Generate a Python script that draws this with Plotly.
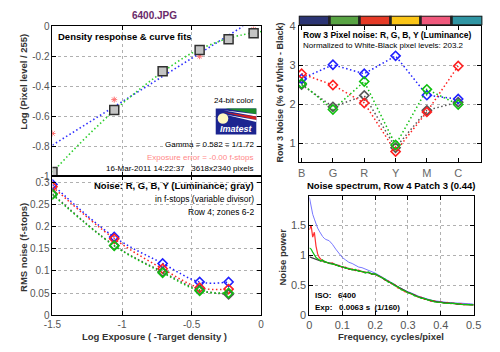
import plotly.graph_objects as go

W, H = 500, 352
def px(x): return x / W
def py(y): return 1 - y / H

# ---------------- Panel 1: density response ----------------
patch_logexp = [-1.5, -1.056, -0.708, -0.442, -0.234, -0.054]
patch_logpix = [-0.974, -0.56, -0.30, -0.159, -0.086, -0.047]
ref_logexp = [-1.5, -1.056, -0.442, -0.054]
ref_logpix = [-0.716, -0.49, -0.20, -0.021]
linfit_x = [-1.5, -0.13]
linfit_y = [-0.794, 0.0]
curvefit_x = [-1.5, -1.3, -1.1, -0.9, -0.7, -0.5, -0.3, -0.15, 0.0]
curvefit_y = [-0.975, -0.78, -0.60, -0.44, -0.30, -0.18, -0.10, -0.06, -0.035]

# ---------------- Panel 2: RMS noise in f-stops ----------------
zone_logexp = [-1.5, -1.056, -0.708, -0.442, -0.234]
noise_R = [0.291, 0.173, 0.105, 0.062, 0.059]
noise_G = [0.273, 0.157, 0.096, 0.055, 0.050]
noise_B = [0.296, 0.177, 0.117, 0.075, 0.075]
noise_Y = [0.275, 0.158, 0.098, 0.057, 0.047]

# ---------------- Panel 3: Row 3 pixel noise ----------------
patch_names = ["B", "G", "R", "Y", "M", "C"]
row3_R = [2.78, 2.49, 2.03, 0.78, 1.80, 2.98]
row3_G = [2.53, 1.86, 2.58, 0.95, 2.38, 1.99]
row3_B = [2.65, 3.01, 2.78, 3.24, 2.23, 2.13]
row3_Y = [2.50, 1.93, 2.22, 0.88, 1.84, 2.05]
patch_colors = ["#2b3474", "#58a443", "#e63a26", "#fbc516", "#f0587c", "#2f95a3"]
strip_height = [1, 1, 1, 1, 1, 1]

# ---------------- Panel 4: noise spectrum ----------------
freq = [0, 0.005, 0.01, 0.015, 0.02, 0.025, 0.03, 0.035, 0.04, 0.045, 0.05,
        0.06, 0.07, 0.08, 0.09, 0.10, 0.11, 0.12, 0.13, 0.14, 0.15,
        0.16, 0.17, 0.18, 0.19, 0.20, 0.21, 0.22, 0.23, 0.24, 0.25,
        0.26, 0.27, 0.28, 0.29, 0.30, 0.31, 0.32, 0.33, 0.34, 0.35,
        0.36, 0.37, 0.38, 0.39, 0.40, 0.41, 0.42, 0.43, 0.44, 0.45,
        0.46, 0.47, 0.48, 0.49, 0.50]
spec_B = [1.96, 1.80, 1.68, 1.60, 1.52, 1.45, 1.40, 1.35, 1.31, 1.28, 1.26,
          1.24, 1.18, 1.10, 1.02, 0.96, 0.92, 0.88, 0.86, 0.83, 0.80,
          0.79, 0.77, 0.75, 0.73, 0.70, 0.67, 0.64, 0.60, 0.57, 0.54,
          0.51, 0.47, 0.44, 0.41, 0.39, 0.37, 0.34, 0.32, 0.30, 0.28,
          0.27, 0.25, 0.24, 0.23, 0.22, 0.22, 0.21, 0.21, 0.20, 0.20,
          0.20, 0.19, 0.19, 0.19, 0.18]
spec_R = [1.42, 1.50, 1.30, 1.38, 1.15, 1.02, 0.96, 0.93, 0.90, 0.90, 0.88,
          0.86, 0.87, 0.83, 0.83, 0.79, 0.80, 0.76, 0.77, 0.74, 0.75,
          0.72, 0.71, 0.71, 0.68, 0.68, 0.65, 0.63, 0.58, 0.57, 0.52,
          0.51, 0.45, 0.44, 0.39, 0.38, 0.35, 0.34, 0.30, 0.30, 0.26,
          0.26, 0.23, 0.24, 0.21, 0.22, 0.20, 0.21, 0.19, 0.20, 0.18,
          0.19, 0.17, 0.18, 0.17, 0.17]
spec_Y = [0.97, 0.96, 0.95, 0.94, 0.93, 0.92, 0.91, 0.90, 0.91, 0.89, 0.88,
          0.87, 0.86, 0.84, 0.82, 0.80, 0.79, 0.77, 0.76, 0.75, 0.74,
          0.72, 0.72, 0.70, 0.69, 0.68, 0.66, 0.62, 0.59, 0.56, 0.53,
          0.50, 0.46, 0.43, 0.40, 0.38, 0.36, 0.33, 0.31, 0.29, 0.27,
          0.26, 0.24, 0.23, 0.22, 0.21, 0.21, 0.20, 0.20, 0.19, 0.19,
          0.18, 0.18, 0.18, 0.17, 0.17]
spec_G = [1.12, 1.10, 1.05, 1.00, 0.96, 0.94, 0.92, 0.90, 0.92, 0.88, 0.89,
          0.86, 0.85, 0.84, 0.81, 0.81, 0.78, 0.78, 0.75, 0.76, 0.73,
          0.73, 0.70, 0.72, 0.68, 0.69, 0.65, 0.62, 0.60, 0.55, 0.54,
          0.49, 0.47, 0.42, 0.41, 0.37, 0.36, 0.32, 0.31, 0.28, 0.28,
          0.25, 0.25, 0.22, 0.22, 0.21, 0.20, 0.20, 0.19, 0.19, 0.19,
          0.18, 0.18, 0.17, 0.18, 0.17]

FONT = "Liberation Sans"
TICKC = "#555555"
COL = {"R": "#ff2020", "G": "#10c010", "B": "#2020ff", "Y": "#555555"}
DOT = "1.5px,2.5px"

fig = go.Figure()

# Panel 1 traces
fig.add_trace(go.Scatter(x=linfit_x, y=linfit_y, mode="lines", xaxis="x", yaxis="y",
                         line=dict(color="#3030ff", width=1.6, dash=DOT)))
fig.add_trace(go.Scatter(x=curvefit_x, y=curvefit_y, mode="lines", xaxis="x", yaxis="y",
                         line=dict(color="#30d030", width=1.6, dash=DOT, shape="spline")))
fig.add_trace(go.Scatter(x=ref_logexp, y=ref_logpix, mode="markers", xaxis="x", yaxis="y",
                         marker=dict(symbol="asterisk-open", size=5, color="#ff7070",
                                     line=dict(color="#ff7070", width=1))))
fig.add_trace(go.Scatter(x=patch_logexp, y=patch_logpix, mode="markers", xaxis="x", yaxis="y",
                         marker=dict(symbol="square", size=9, color="#c4c4c4",
                                     line=dict(color="#303030", width=1.5))))

# Panel 2 traces
for vals, key in [(noise_B, "B"), (noise_R, "R"), (noise_Y, "Y"), (noise_G, "G")]:
    fig.add_trace(go.Scatter(x=zone_logexp, y=vals, mode="lines+markers", xaxis="x2", yaxis="y2",
                             line=dict(color=COL[key], width=1.5, dash=DOT, shape="spline"),
                             marker=dict(symbol="diamond-open", size=7,
                                         line=dict(color=COL[key], width=1.6))))

# Panel 3 traces
for vals, key in [(row3_Y, "Y"), (row3_B, "B"), (row3_R, "R"), (row3_G, "G")]:
    fig.add_trace(go.Scatter(x=patch_names, y=vals, mode="lines+markers", xaxis="x3", yaxis="y3",
                             line=dict(color=COL[key], width=1.5, dash=DOT),
                             marker=dict(symbol="diamond-open", size=7,
                                         line=dict(color=COL[key], width=1.6))))

# colour strip
fig.add_trace(go.Bar(x=patch_names, y=strip_height, xaxis="x5", yaxis="y5", width=1,
                     marker=dict(color=patch_colors, line=dict(color="#222222", width=2.5))))

# Panel 4 traces
fig.add_trace(go.Scatter(x=freq, y=spec_B, mode="lines", xaxis="x4", yaxis="y4",
                         line=dict(color="#7878ff", width=1)))
fig.add_trace(go.Scatter(x=freq, y=spec_R, mode="lines", xaxis="x4", yaxis="y4",
                         line=dict(color="#ff3030", width=1.2)))
fig.add_trace(go.Scatter(x=freq, y=spec_Y, mode="lines", xaxis="x4", yaxis="y4",
                         line=dict(color="#404040", width=1.2)))
fig.add_trace(go.Scatter(x=freq, y=spec_G, mode="lines", xaxis="x4", yaxis="y4",
                         line=dict(color="#10c010", width=1.2)))

axcommon = dict(showline=True, linecolor="black", linewidth=1, mirror="ticks",
                ticks="inside", ticklen=4, tickcolor="black", zeroline=False,
                showgrid=True, gridcolor="#b0b0b0", griddash="dot", gridwidth=1,
                tickfont=dict(family=FONT, size=10, color=TICKC))

def ax(**kw):
    d = dict(axcommon)
    d.update(kw)
    return d

fig.update_layout(
    width=W, height=H, margin=dict(l=0, r=0, t=0, b=0),
    paper_bgcolor="white", plot_bgcolor="white", showlegend=False, bargap=0,
    font=dict(family=FONT, size=10, color="black"),
    xaxis=ax(domain=[px(45), px(261)], range=[-1.5, 0], anchor="y",
             tickvals=[-1.5, -1, -0.5, 0], showticklabels=False),
    yaxis=ax(domain=[py(176), py(21)], range=[-1, 0], anchor="x",
             tickvals=[0, -0.2, -0.4, -0.6, -0.8, -1],
             ticktext=["0", "-0.2", "-0.4", "-0.6", "-0.8", "-1"]),
    xaxis2=ax(domain=[px(45), px(261)], range=[-1.5, 0], anchor="y2",
              tickvals=[-1.5, -1, -0.5, 0], ticktext=["-1.5", "-1", "-0.5", "0"]),
    yaxis2=ax(domain=[py(320), py(176)], range=[0, 0.3153], anchor="x2",
              tickvals=[0, 0.05, 0.1, 0.15, 0.2, 0.25, 0.3],
              ticktext=["0", "0.05", "0.1", "0.15", "0.2", "0.25", "0.3"]),
    xaxis3=ax(domain=[px(300), px(489)], range=[-0.09, 5.74], anchor="y3", type="category",
              showgrid=False, tickfont=dict(family=FONT, size=11, color="#666666")),
    yaxis3=ax(domain=[py(162), py(21)], range=[0.5, 4], anchor="x3",
              tickvals=[1, 2, 3, 4], tickfont=dict(family=FONT, size=11, color=TICKC)),
    xaxis4=ax(domain=[px(311), px(481)], range=[0, 0.5], anchor="y4",
              tickvals=[0, 0.1, 0.2, 0.3, 0.4, 0.5],
              ticktext=["0", "0.1", "0.2", "0.3", "0.4", "0.5"],
              tickfont=dict(family=FONT, size=11, color=TICKC)),
    yaxis4=ax(domain=[py(320), py(197)], range=[0, 1.98], anchor="x4",
              tickvals=[0, 0.5, 1, 1.5], ticktext=["0", "0.5", "1", "1.5"],
              tickfont=dict(family=FONT, size=11, color=TICKC)),
    xaxis5=dict(domain=[px(300), px(490)], range=[-0.5, 5.5], anchor="y5",
                type="category", visible=False),
    yaxis5=dict(domain=[py(20), py(10)], range=[0, 1], anchor="x5", visible=False),
)

ann = []
def text(x, y, s, size=10, bold=False, color="black", xanchor="center", angle=0, italic=False):
    t = f"<b>{s}</b>" if bold else s
    if italic:
        t = f"<i>{t}</i>"
    ann.append(dict(x=px(x), y=py(y), xref="paper", yref="paper", text=t, showarrow=False,
                    xanchor=xanchor, yanchor="middle", textangle=angle, borderpad=0,
                    font=dict(family=FONT, size=size, color=color)))

text(151, 10, "6400.JPG", size=10, bold=True, color="#6a2a6a")
text(50, 32, "Density response &amp; curve fits", size=9.5, bold=True, xanchor="left")
text(255, 98, "24-bit color", size=8, xanchor="right")
text(255, 143, "Gamma = 0.582 = 1/1.72", size=8, xanchor="right")
text(255, 157, "Exposure error = -0.00 f-stops", size=8, xanchor="right", color="#ff8888")
text(255, 168, "16-Mar-2011 14:22:37   3618x2340 pixels", size=8, xanchor="right")
text(15, 78, "Log (Pixel level / 255)", size=9.5, bold=True, angle=-90, color="#333333")
text(15, 250, "RMS noise (f-stops)", size=9.5, bold=True, angle=-90, color="#333333")
text(255, 186, "Noise: R, G, B, Y (Luminance; gray)", size=9.5, bold=True, xanchor="right")
text(255, 200, "in f-stops (variable divisor)", size=8.5, xanchor="right")
text(255, 213, "Row 4; zones 6-2", size=8.5, xanchor="right")
text(151, 342, "Log Exposure ( -Target density )", size=9.5, bold=True, color="#333333")
text(303, 30, "Row 3 Pixel noise: R, G, B, Y (Luminance)", size=8.5, bold=True, xanchor="left")
text(303, 41, "Normalized to White-Black pixel levels: 203.2", size=8, xanchor="left")
text(280, 89, "Row 3 Noise (% of White - Black)", size=9, bold=True, angle=-90, color="#333333")
text(395, 186, "Noise spectrum, Row 4 Patch 3 (0.44)", size=9.5, bold=True)
text(283, 260, "Noise power", size=9.5, bold=True, angle=-90, color="#333333")
text(395, 342, "Frequency, cycles/pixel", size=9.5, bold=True, color="#333333")
text(316, 300, "ISO:   6400", size=8, bold=True, xanchor="left")
text(316, 312, "Exp:   0.0063 s  (1/160)", size=8, bold=True, xanchor="left")
text(235, 127, "Imatest", size=9, bold=True, italic=True, color="white")

shapes = [
    dict(type="rect", xref="paper", yref="paper", x0=px(214), x1=px(256), y0=py(133), y1=py(106),
         fillcolor="#1c2590", line=dict(width=0), layer="above"),
    dict(type="path", xref="paper", yref="paper",
         path=f"M {px(224)} {py(106)} L {px(256)} {py(106)} L {px(256)} {py(112)} Z",
         fillcolor="#1a8a2a", line=dict(width=0), layer="above"),
    dict(type="path", xref="paper", yref="paper",
         path=f"M {px(222)} {py(108)} L {px(256)} {py(112)} L {px(256)} {py(114.5)} Z",
         fillcolor="white", line=dict(width=0), layer="above"),
    dict(type="path", xref="paper", yref="paper",
         path=f"M {px(222)} {py(110)} L {px(256)} {py(114.5)} L {px(256)} {py(118)} Z",
         fillcolor="#d42020", line=dict(width=0), layer="above"),
    dict(type="path", xref="paper", yref="paper",
         path=f"M {px(222)} {py(112)} L {px(256)} {py(118)} L {px(256)} {py(120)} Z",
         fillcolor="white", line=dict(width=0), layer="above"),
    dict(type="circle", xref="paper", yref="paper", x0=px(216), x1=px(227), y0=py(122), y1=py(111),
         fillcolor="#fff8c0", line=dict(width=0), layer="above"),
]

fig.update_layout(annotations=ann, shapes=shapes)
fig.write_html("out.html")
